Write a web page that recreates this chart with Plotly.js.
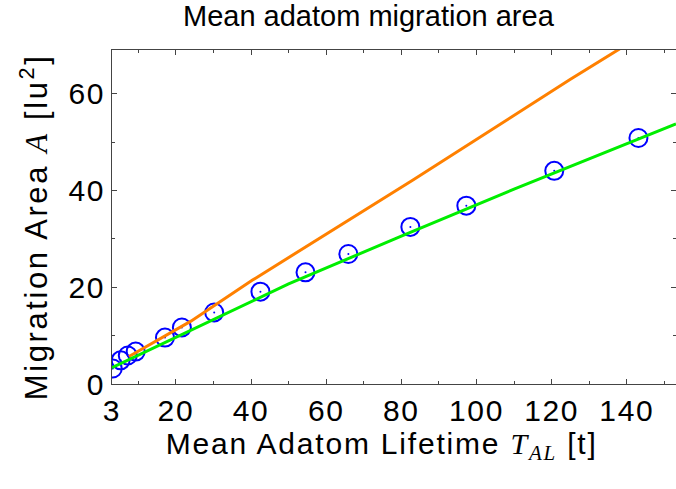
<!DOCTYPE html>
<html>
<head>
<meta charset="utf-8">
<script src="https://cdn.plot.ly/plotly-3.0.1.min.js"></script>
<style>
html,body{margin:0;padding:0;background:#fff;}
#chart{width:676px;height:489px;}
#chart .annotation[data-index="1"] text{letter-spacing:1.8px;}
#chart .annotation[data-index="2"] text{letter-spacing:2.6px;}
#chart .xtick text, #chart .ytick text{letter-spacing:1.6px;}
</style>
</head>
<body>
<div id="chart"></div>
<script>
// Measured data (circles)
const lifetimeT = [3.2, 5.3, 7.2, 9.3, 17.1, 21.6, 30.2, 42.5, 54.5, 65.9, 82.4, 97.3, 120.7, 143.1];
const migrationA = [3.2, 4.9, 5.9, 6.7, 9.6, 11.7, 14.8, 19.1, 23.1, 26.9, 32.5, 36.9, 44.1, 50.9];
// Green fit curve
const fitT = [3, 25, 50, 80, 110, 153.1];
const fitA = [3.4, 11.5, 20.7, 30.6, 40.3, 53.8];
// Orange reference line
const refT = [7.5, 24, 40.4, 61.8, 83.1, 124.9, 139.5];
const refA = [5.7, 13.0, 21.5, 31.9, 42.2, 63.0, 70.0];
// Ticks
const xTickVals = [3, 20, 40, 60, 80, 100, 120, 140];
const xTickText = ["3", "20", "40", "60", "80", "100", "120", "140"];
const xMinor = [10, 30, 50, 70, 90, 110, 130, 150];
const yTickVals = [0, 20, 40, 60];
const yMinor = [10, 30, 50];

const font = "Liberation Sans, Arial, sans-serif";
const axisCol = "#444";

const traces = [
  {x: lifetimeT, y: migrationA, mode: "markers", type: "scatter",
   marker: {symbol: "circle-open", size: 18, color: "#0000ff", line: {width: 2, color: "#0000ff"}},
   hoverinfo: "none"},
  {x: lifetimeT, y: migrationA, mode: "markers", type: "scatter",
   marker: {symbol: "circle", size: 2, color: "#0000ff"}, hoverinfo: "none"},
  {x: refT, y: refA, mode: "lines", type: "scatter",
   line: {color: "#ff8000", width: 3}, hoverinfo: "none"},
  {x: fitT, y: fitA, mode: "lines", type: "scatter",
   line: {color: "#00ee00", width: 3}, hoverinfo: "none"}
];

const layout = {
  width: 676, height: 489,
  margin: {l: 112, r: 0, t: 50, b: 105},
  paper_bgcolor: "#fff", plot_bgcolor: "#fff",
  showlegend: false,
  font: {family: font, color: "#000"},
  xaxis: {
    range: [3, 153.1], tickmode: "array", tickvals: xTickVals, ticktext: xTickText,
    ticks: "inside", ticklen: 5, tickwidth: 1, tickcolor: axisCol,
    showline: true, linecolor: axisCol, linewidth: 1, mirror: "ticks",
    showgrid: false, zeroline: false,
    tickfont: {family: font, size: 30, color: "#000"},
    minor: {tickmode: "array", tickvals: xMinor, ticks: "inside", ticklen: 3, tickcolor: axisCol, showgrid: false}
  },
  yaxis: {
    range: [0, 69.1], tickmode: "array", tickvals: yTickVals,
    ticks: "inside", ticklen: 5, tickwidth: 1, tickcolor: axisCol,
    showline: true, linecolor: axisCol, linewidth: 1, mirror: "ticks",
    showgrid: false, zeroline: false,
    tickfont: {family: font, size: 30, color: "#000"},
    minor: {tickmode: "array", tickvals: yMinor, ticks: "inside", ticklen: 3, tickcolor: axisCol, showgrid: false}
  },
  annotations: [
    {text: "Mean adatom migration area", xref: "paper", yref: "paper",
     x: 0.4548, y: 1.1018, xanchor: "center", yanchor: "middle", showarrow: false,
     font: {family: font, size: 29, color: "#000"}},
    {text: "Mean Adatom Lifetime <span style=\"font-family:'Liberation Serif',serif\"><i>T</i><sub><i>AL</i></sub></span> [t]",
     xref: "paper", yref: "paper", x: 0.477, y: -0.1856, xanchor: "center", yanchor: "middle",
     showarrow: false, font: {family: font, size: 30, color: "#000"}},
    {text: "Migration Area <span style=\"font-family:'Liberation Serif',serif\"><i>A</i></span> [lu<sup>2</sup>]",
     xref: "paper", yref: "paper", x: -0.138, y: 0.4686, xanchor: "center", yanchor: "middle",
     textangle: -90, showarrow: false, font: {family: font, size: 31, color: "#000"}}
  ]
};

Plotly.newPlot("chart", traces, layout, {staticPlot: true, displayModeBar: false});
</script>
</body>
</html>
